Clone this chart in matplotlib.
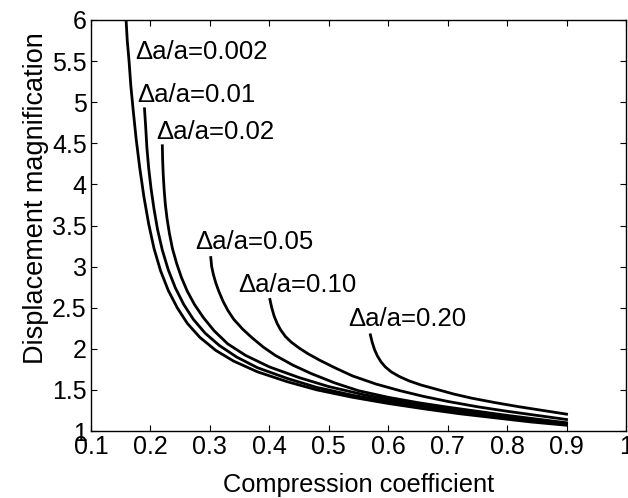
import matplotlib
matplotlib.use("Agg")
import matplotlib.pyplot as plt

plt.rcParams['font.family'] = ['Liberation Sans', 'DejaVu Sans']

# Compression coefficient (x) and displacement magnification (y) for each Δa/a
labels = ["\u0394a/a=0.002", "\u0394a/a=0.01", "\u0394a/a=0.02",
          "\u0394a/a=0.05", "\u0394a/a=0.10", "\u0394a/a=0.20"]

x_0002 = [0.159, 0.161, 0.164, 0.167, 0.171, 0.176, 0.182, 0.189, 0.197, 0.206, 0.217, 0.23,
          0.245, 0.262, 0.283, 0.31, 0.34, 0.38, 0.43, 0.48, 0.54, 0.60, 0.66, 0.72, 0.78,
          0.84, 0.90]
y_0002 = [6.0, 5.75, 5.5, 5.2, 4.9, 4.55, 4.2, 3.85, 3.52, 3.22, 2.95, 2.71,
          2.50, 2.31, 2.14, 1.98, 1.85, 1.72, 1.60, 1.50, 1.41, 1.335, 1.27, 1.21, 1.16,
          1.11, 1.07]

x_001 = [0.190, 0.192, 0.194, 0.197, 0.201, 0.206, 0.212, 0.22, 0.23, 0.242, 0.256, 0.272,
         0.292, 0.316, 0.345, 0.38, 0.43, 0.48, 0.54, 0.60, 0.66, 0.72, 0.78, 0.84, 0.90]
y_001 = [4.92, 4.7, 4.45, 4.2, 3.95, 3.7, 3.45, 3.2, 2.96, 2.74, 2.54, 2.36,
         2.19, 2.04, 1.90, 1.77, 1.64, 1.53, 1.435, 1.36, 1.295, 1.235, 1.18, 1.13, 1.08]

x_002 = [0.220, 0.2205, 0.2215, 0.223, 0.225, 0.228, 0.232, 0.237, 0.244, 0.252, 0.262,
         0.274, 0.289, 0.307, 0.33, 0.36, 0.40, 0.45, 0.50, 0.56, 0.62, 0.68, 0.74, 0.80,
         0.85, 0.90]
y_002 = [4.47, 4.3, 4.12, 3.94, 3.76, 3.58, 3.40, 3.22, 3.04, 2.87, 2.70,
         2.54, 2.38, 2.22, 2.06, 1.92, 1.78, 1.65, 1.54, 1.44, 1.36, 1.29, 1.23, 1.17,
         1.13, 1.09]

x_005 = [0.3015, 0.303, 0.306, 0.31, 0.315, 0.322, 0.33, 0.34, 0.355, 0.37, 0.39, 0.41,
         0.44, 0.47, 0.51, 0.55, 0.60, 0.65, 0.70, 0.75, 0.80, 0.85, 0.90]
y_005 = [3.11, 3.0, 2.90, 2.80, 2.70, 2.58, 2.47, 2.36, 2.24, 2.14, 2.02, 1.92,
         1.80, 1.70, 1.585, 1.49, 1.41, 1.345, 1.29, 1.24, 1.19, 1.145, 1.10]

x_010 = [0.401, 0.404, 0.408, 0.413, 0.419, 0.427, 0.437, 0.45, 0.465, 0.485, 0.51, 0.54,
         0.58, 0.62, 0.66, 0.70, 0.75, 0.80, 0.85, 0.90]
y_010 = [2.60, 2.50, 2.40, 2.31, 2.23, 2.15, 2.08, 2.01, 1.94, 1.86, 1.77, 1.67,
         1.57, 1.49, 1.42, 1.36, 1.295, 1.24, 1.19, 1.14]

x_020 = [0.570, 0.573, 0.577, 0.582, 0.588, 0.595, 0.605, 0.618, 0.635, 0.655, 0.68, 0.71,
         0.74, 0.78, 0.82, 0.86, 0.90]
y_020 = [2.17, 2.08, 1.99, 1.91, 1.84, 1.78, 1.72, 1.665, 1.61, 1.56, 1.51, 1.45,
         1.40, 1.345, 1.295, 1.25, 1.205]

# label anchor points (data coords, left/baseline)
label_x = [0.174, 0.177, 0.2094, 0.275, 0.348, 0.533]
label_y = [5.52, 5.006, 4.55, 3.22, 2.695, 2.277]

xticks = [0.1, 0.2, 0.3, 0.4, 0.5, 0.6, 0.7, 0.8, 0.9, 1.0]
xticklabels = ["0.1", "0.2", "0.3", "0.4", "0.5", "0.6", "0.7", "0.8", "0.9", "1"]
yticks = [1, 1.5, 2, 2.5, 3, 3.5, 4, 4.5, 5, 5.5, 6]
yticklabels = ["1", "1.5", "2", "2.5", "3", "3.5", "4", "4.5", "5", "5.5", "6"]

series = [(x_0002, y_0002), (x_001, y_001), (x_002, y_002),
          (x_005, y_005), (x_010, y_010), (x_020, y_020)]

fig = plt.figure(figsize=(6.28, 4.98), dpi=100)
ax = fig.add_axes([91/628, 1 - 431/498, (626 - 91)/628, (431 - 20)/498])

for (xs, ys) in series:
    ax.plot(xs, ys, color='black', lw=2.0, solid_joinstyle='round')

for lab, lx, ly in zip(labels, label_x, label_y):
    ax.text(lx, ly, lab, fontsize=18.5, ha='left', va='baseline')

ax.set_xlim(0.1, 1.0)
ax.set_ylim(1, 6)
ax.set_xticks(xticks)
ax.set_xticklabels(xticklabels)
ax.set_yticks(yticks)
ax.set_yticklabels(yticklabels)
ax.tick_params(direction='in', length=4, width=0.8, top=True, right=True,
               labelsize=18, pad=3)
for s in ax.spines.values():
    s.set_linewidth(1.0)

ax.set_xlabel("Compression coefficient", fontsize=18.3, labelpad=10)
fig.text(36/628, 1 - 198/498, "Displacement magnification", rotation=90,
         fontsize=19.5, ha='center', va='center')

fig.savefig("out.png", dpi=100)
